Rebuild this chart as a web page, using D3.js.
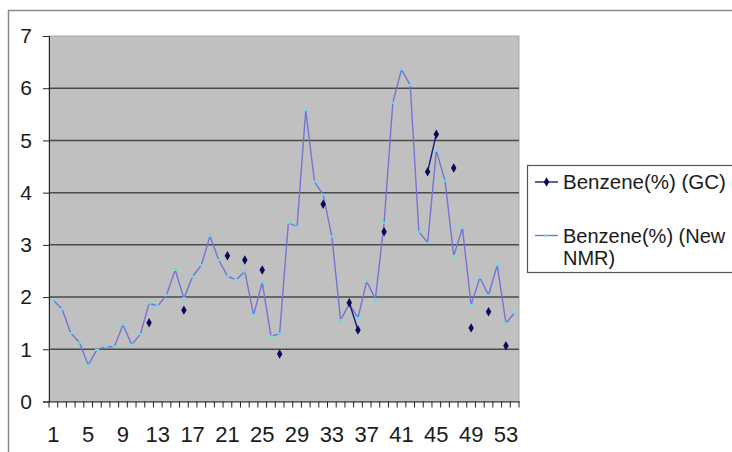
<!DOCTYPE html>
<html>
<head>
<meta charset="utf-8">
<script src="https://cdn.jsdelivr.net/npm/d3@7"></script>
<style>
  body { margin: 0; background: #fff; }
  svg text { font-family: "Liberation Sans", Arial, sans-serif; fill: #1a1a1a; }
</style>
</head>
<body>
<svg id="chart" width="732" height="452"></svg>
<script>

var categories = [1, 2, 3, 4, 5, 6, 7, 8, 9, 10, 11, 12, 13, 14, 15, 16, 17, 18,
                  19, 20, 21, 22, 23, 24, 25, 26, 27, 28, 29, 30, 31, 32, 33, 34, 35, 36,
                  37, 38, 39, 40, 41, 42, 43, 44, 45, 46, 47, 48, 49, 50, 51, 52, 53, 54];

var gc_values  = [null, null, null, null, null, null, null, null, null, null, null, 1.51,
                  null, null, null, 1.75, null, null, null, null, 2.79, null, 2.71, null,
                  2.52, null, 0.91, null, null, null, null, 3.78, null, null, 1.89, 1.37,
                  null, null, 3.25, null, null, null, null, 4.40, 5.12, null, 4.47, null,
                  1.41, null, 1.72, null, 1.07, null];

var nmr_values = [1.94, 1.77, 1.31, 1.13, 0.70, 0.99, 1.05, 1.05, 1.47, 1.09, 1.29, 1.88,
                  1.83, 2.04, 2.52, 1.98, 2.39, 2.61, 3.17, 2.71, 2.40, 2.33, 2.49, 1.66,
                  2.28, 1.25, 1.30, 3.42, 3.35, 5.58, 4.21, 3.96, 3.16, 1.56, 1.87, 1.60,
                  2.30, 1.96, 3.42, 5.72, 6.36, 6.06, 3.25, 3.04, 4.80, 4.23, 2.79, 3.32,
                  1.85, 2.37, 2.04, 2.61, 1.50, 1.70];

var y_ticks  = [0, 1, 2, 3, 4, 5, 6, 7];
var x_labels = [1, 5, 9, 13, 17, 21, 25, 29, 33, 37, 41, 45, 49, 53];
var series_names = ["Benzene(%) (GC)", "Benzene(%) (New", "NMR)"];

var svg = d3.select("#chart");

var plot = {left: 49, right: 519, top: 36, bottom: 401.5};

var xAxis = d3.scaleBand().domain(categories).range([plot.left, plot.right]);
var yAxis = d3.scaleLinear().domain([0, 7]).range([plot.bottom, plot.top]);

function cx(c){ return xAxis(c) + xAxis.bandwidth() / 2; }

// outer chart border
svg.append("rect")
    .attr("x", 8.5).attr("y", 10.5)
    .attr("width", 740).attr("height", 460)
    .attr("fill", "#fff")
    .attr("stroke", "#8a8a8a")
    .attr("stroke-width", 1.5);

// plot area
svg.append("rect")
    .attr("x", plot.left).attr("y", plot.top)
    .attr("width", plot.right - plot.left)
    .attr("height", plot.bottom - plot.top)
    .attr("fill", "#c0c0c0")
    .attr("stroke", "#a8a8a8")
    .attr("stroke-width", 1);

// gridlines
svg.append("g")
    .selectAll("line")
    .data(y_ticks.filter(function(d){ return d > 0 && d < 7; }))
    .enter().append("line")
        .attr("x1", plot.left).attr("x2", plot.right)
        .attr("y1", function(d){ return yAxis(d); })
        .attr("y2", function(d){ return yAxis(d); })
        .attr("stroke", "#4a4a4a")
        .attr("stroke-width", 1.5);

// y axis
var yg = svg.append("g")
    .attr("transform", "translate(" + plot.left + ",0)")
    .call(d3.axisLeft(yAxis).tickValues(y_ticks).tickSize(6).tickPadding(11).tickFormat(d3.format("d")));
yg.selectAll("text").style("font-size", "21px");
yg.selectAll("line, path").attr("stroke", "#222");

// x axis labels
var xg = svg.append("g")
    .attr("transform", "translate(0," + plot.bottom + ")")
    .call(d3.axisBottom(xAxis).tickValues(x_labels).tickSize(0).tickPadding(40));
xg.selectAll("text").style("font-size", "22px").attr("dy", "0");
xg.select("path").attr("stroke", "#222");

// x tick marks at category boundaries
svg.append("g")
    .selectAll("line")
    .data(categories)
    .enter().append("line")
        .attr("x1", function(d){ return xAxis(d); })
        .attr("x2", function(d){ return xAxis(d); })
        .attr("y1", plot.bottom).attr("y2", plot.bottom + 6)
        .attr("stroke", "#222");
svg.append("line")
    .attr("x1", plot.right).attr("x2", plot.right)
    .attr("y1", plot.bottom).attr("y2", plot.bottom + 6)
    .attr("stroke", "#222");

// NMR series
var nmr_line = d3.line()
    .x(function(d, i){ return cx(categories[i]); })
    .y(function(d){ return yAxis(d); });

svg.append("path")
    .datum(nmr_values)
    .attr("fill", "none")
    .attr("stroke", "#7474d6")
    .attr("stroke-width", 1.4)
    .attr("d", nmr_line);

svg.append("g")
    .selectAll("line")
    .data(nmr_values)
    .enter().append("line")
        .attr("x1", function(d, i){ return cx(categories[i]) - 2; })
        .attr("x2", function(d, i){ return cx(categories[i]) + 2; })
        .attr("y1", function(d){ return yAxis(d); })
        .attr("y2", function(d){ return yAxis(d); })
        .attr("stroke", "#5fe3f0")
        .attr("stroke-width", 2);

// GC series
var gc_line = d3.line()
    .defined(function(d){ return d !== null; })
    .x(function(d, i){ return cx(categories[i]); })
    .y(function(d){ return yAxis(d); });

svg.append("path")
    .datum(gc_values)
    .attr("fill", "none")
    .attr("stroke", "#1a1a80")
    .attr("stroke-width", 1.4)
    .attr("d", gc_line);

svg.append("g")
    .selectAll("path")
    .data(gc_values.map(function(v, i){ return [categories[i], v]; }).filter(function(d){ return d[1] !== null; }))
    .enter().append("path")
        .attr("d", d3.symbol().type(d3.symbolDiamond).size(26))
        .attr("transform", function(d){ return "translate(" + cx(d[0]) + "," + yAxis(d[1]) + ")"; })
        .attr("fill", "#0a0a5a");

// legend
var lg = svg.append("g");
lg.append("rect")
    .attr("x", 527.5).attr("y", 165.5)
    .attr("width", 220).attr("height", 107)
    .attr("fill", "#fff")
    .attr("stroke", "#555")
    .attr("stroke-width", 1.2);

lg.append("line")
    .attr("x1", 535).attr("x2", 558).attr("y1", 182).attr("y2", 182)
    .attr("stroke", "#1a1a80").attr("stroke-width", 1.4);
lg.append("path")
    .attr("d", d3.symbol().type(d3.symbolDiamond).size(26))
    .attr("transform", "translate(546.5,182)")
    .attr("fill", "#0a0a5a");
lg.append("text").attr("x", 563).attr("y", 189).style("font-size", "20.5px").text(series_names[0]);

lg.append("line")
    .attr("x1", 535).attr("x2", 558).attr("y1", 235.5).attr("y2", 235.5)
    .attr("stroke", "#7474d6").attr("stroke-width", 1.4);
lg.append("line")
    .attr("x1", 544.5).attr("x2", 548.5).attr("y1", 235.5).attr("y2", 235.5)
    .attr("stroke", "#5fe3f0").attr("stroke-width", 2);
lg.append("text").attr("x", 563).attr("y", 243).style("font-size", "20px").text(series_names[1]);
lg.append("text").attr("x", 563).attr("y", 265).style("font-size", "20px").text(series_names[2]);

</script>
</body>
</html>
